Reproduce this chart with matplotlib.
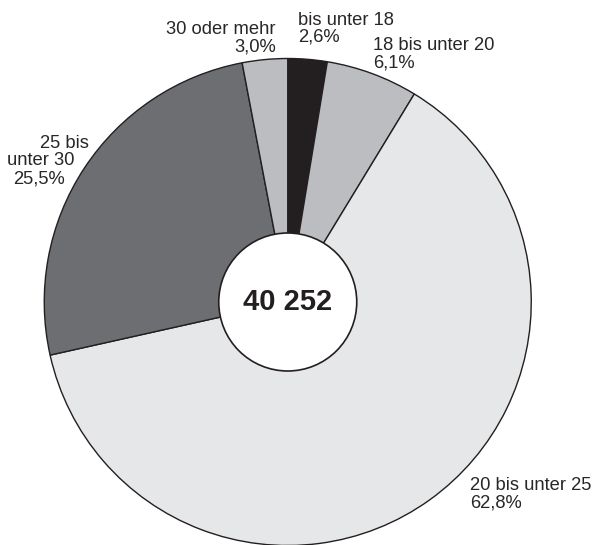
import matplotlib.pyplot as plt
from matplotlib.patches import Circle

plt.rcParams['font.family'] = ['Liberation Sans', 'DejaVu Sans']

# Anteile (in %), im Uhrzeigersinn ab 12 Uhr
categories = ['bis unter 18', '18 bis unter 20', '20 bis unter 25', '25 bis unter 30', '30 oder mehr']
shares = [2.6, 6.1, 62.8, 25.5, 3.0]
colors = ['#231f20', '#bcbdc0', '#e6e7e8', '#6d6e71', '#bcbdc0']
total_label = '40 252'

W, H = 597, 545
fig = plt.figure(figsize=(W / 100, H / 100), dpi=100)
ax = fig.add_axes([0, 0, 1, 1])

cx, cy = 287.75, H - 302
ax.pie(shares, colors=colors, startangle=90, counterclock=False,
       center=(cx, cy), radius=243.5,
       wedgeprops=dict(edgecolor='#231f20', linewidth=1.0))
ax.add_patch(Circle((cx, cy), 69, facecolor='white', edgecolor='#231f20', linewidth=1.2, zorder=5))
ax.text(cx, cy, total_label, ha='center', va='center', fontsize=21, fontweight='bold',
        color='#231f20', zorder=6)

ax.set_xlim(0, W)
ax.set_ylim(0, H)
ax.set_aspect('equal')
ax.axis('off')

txt = dict(fontsize=13.2, color='#2a2627', linespacing=1.0, va='top')


def label(x, ytop, s, ha='left'):
    ax.text(x, H - ytop, s, ha=ha, **txt)


label(298, 12, 'bis unter 18\n2,6%')
label(276, 21, '30 oder mehr\n3,0%', ha='right')
label(373, 37, '18 bis unter 20\n6,1%')
label(40, 135, '25 bis')
label(7, 152, 'unter 30')
label(13, 170, '25,5%')
label(470, 477, '20 bis unter 25\n62,8%')

plt.savefig('out.png', dpi=100)
